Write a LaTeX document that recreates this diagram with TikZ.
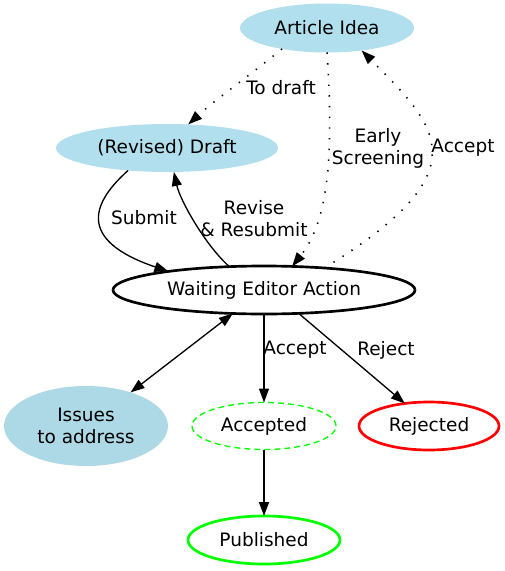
\documentclass[tikz,border=0pt]{standalone}
\usepackage{fontspec}
\setmainfont{DejaVu Sans}
\usetikzlibrary{shapes.geometric,arrows.meta}
\definecolor{lbtwo}{HTML}{B2DFEE}
\definecolor{lbone}{HTML}{ADD8E6}
\definecolor{gvgreen}{HTML}{00FF00}
\definecolor{gvred}{HTML}{FF0000}
\tikzset{
  st/.style={ellipse, inner sep=0pt, outer sep=0pt, align=center,
    font=\fontsize{18.5}{22}\selectfont},
  lbl/.style={inner sep=0pt, align=center, font=\fontsize{18.5}{22}\selectfont},
  tip/.tip={Triangle[length=14pt,width=10pt]},
  edge/.style={line width=1.33pt, -tip},
  dotline/.style={edge, line width=1.6pt, dash pattern=on 1.4pt off 9.3pt},
}
\begin{document}
\begin{tikzpicture}[x=1pt,y=-1pt]
\useasboundingbox (0,0) rectangle (504,571);
\node[st, fill=lbtwo, minimum width=174pt, minimum height=49pt] (idea) at (327,28) {Article Idea};
\node[st, fill=lbtwo, minimum width=222pt, minimum height=48pt] (draft) at (167,148) {(Revised) Draft};
\node[st, draw=black, line width=2.67pt, minimum width=302pt, minimum height=48pt] (wait) at (264,290) {Waiting Editor Action};
\node[st, fill=lbone, minimum width=164pt, minimum height=80pt] (issues) at (86,426) {Issues\\to address};
\node[st, draw=gvgreen, line width=1.33pt, dash pattern=on 6pt off 4pt, minimum width=144pt, minimum height=47pt] (acc) at (264,426) {Accepted};
\node[st, draw=gvred, line width=2.67pt, minimum width=140pt, minimum height=48pt] (rej) at (429,426) {Rejected};
\node[st, draw=gvgreen, line width=2.67pt, minimum width=152pt, minimum height=48pt] (pub) at (264,540) {Published};

\draw[dotline] (idea.205) .. controls (250,75) and (215,100) .. (draft.48);
\draw[dotline] (idea.270) .. controls (335,170) and (325,225) .. (wait.40);
\draw[dotline] (wait.20) .. controls (482,171) and (439,128) .. (idea.-33);
\draw[edge] (draft.-150) .. controls (95,200) and (73,239) .. (wait.169);
\draw[edge] (wait.146) .. controls (205,245) and (180,200) .. (draft.-74);
\draw[edge, tip-tip] (wait.217) -- (issues.37.5);
\draw[edge] (wait.south) -- (acc.north);
\draw[edge] (wait.-34) -- (rej.137);
\draw[edge] (acc.south) -- (pub.north);

\node[lbl] (ltodraft) at (281,88) {To draft};
\node[lbl] (learly) at (378,148) {Early\\Screening};
\node[lbl] (lacc1) at (463,148) {Accept};
\node[lbl] (lsub) at (144,218) {Submit};
\node[lbl] (lrev) at (254,219) {Revise\\\& Resubmit};
\node[lbl] (lacc2) at (295,350) {Accept};
\node[lbl] (lrej) at (386,350) {Reject};
\end{tikzpicture}
\end{document}
